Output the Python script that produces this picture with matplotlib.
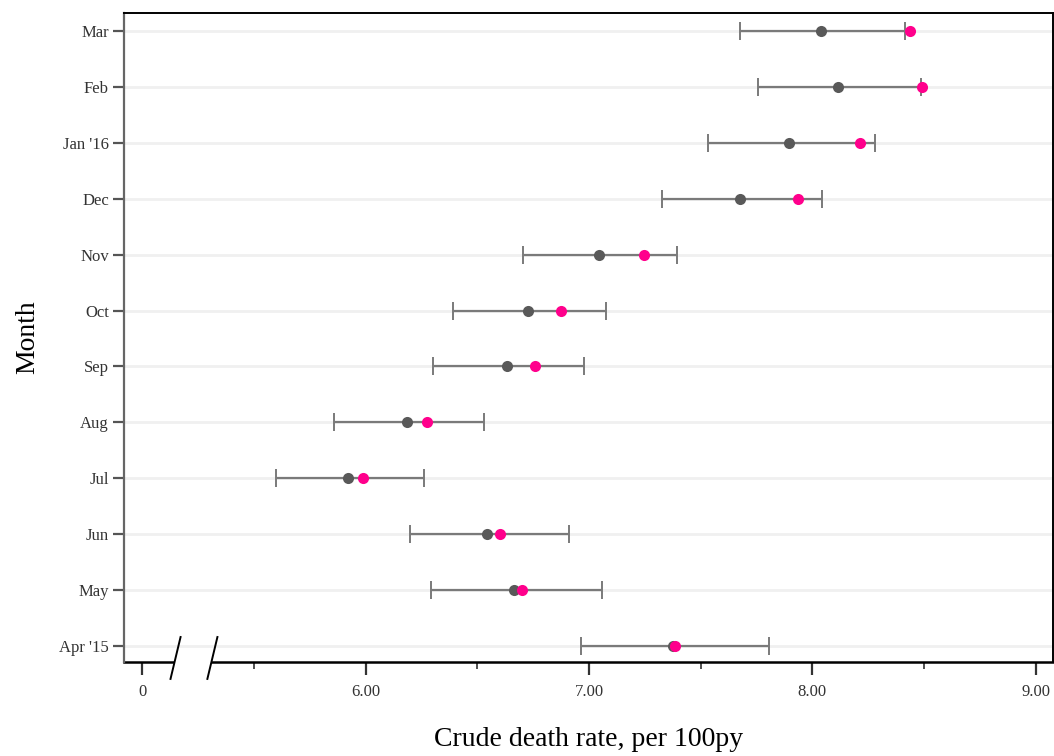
import matplotlib
matplotlib.use("Agg")
import matplotlib.pyplot as plt
from matplotlib.ticker import FixedLocator
import matplotlib.transforms as mtransforms

months = ["Apr '15", "May", "Jun", "Jul", "Aug", "Sep", "Oct", "Nov", "Dec", "Jan '16", "Feb", "Mar"]
estimate = [7.376, 6.665, 6.544, 5.921, 6.185, 6.634, 6.726, 7.043, 7.676, 7.895, 8.115, 8.038]
ci_low = [6.963, 6.295, 6.200, 5.600, 5.857, 6.304, 6.391, 6.707, 7.326, 7.533, 7.755, 7.675]
ci_high = [7.806, 7.060, 6.911, 6.260, 6.531, 6.978, 7.078, 7.393, 8.042, 8.282, 8.488, 8.416]
alt_estimate = [7.385, 6.702, 6.601, 5.987, 6.276, 6.759, 6.874, 7.248, 7.937, 8.215, 8.492, 8.435]

x_ticks = [5.0, 6.0, 7.0, 8.0, 9.0]
x_tick_labels = ["0", "6.00", "7.00", "8.00", "9.00"]
x_minor = [5.5, 6.5, 7.5, 8.5]

plt.rcParams['font.family'] = ['Liberation Serif', 'DejaVu Serif']

fig = plt.figure(figsize=(10.54, 7.56), dpi=100)
ax = fig.add_axes([0.1179, 0.1243, 0.8809, 0.8589])

ypos = list(range(len(months)))
for y in ypos:
    ax.axhline(y, color='#f0f0f0', lw=2.0, zorder=0)

lo_err = [e - l for e, l in zip(estimate, ci_low)]
hi_err = [h - e for e, h in zip(estimate, ci_high)]
ax.errorbar(estimate, ypos, xerr=[lo_err, hi_err], fmt='none', ecolor='#7a7a7a',
            elinewidth=1.6, capsize=6.5, capthick=1.4, zorder=2)
ax.plot(estimate, ypos, 'o', color='#595959', ms=8, mec='none', zorder=3)
ax.plot(alt_estimate, ypos, 'o', color='#ff008c', ms=8, mec='none', zorder=4)

ax.set_xlim(4.92, 9.076)
ax.set_ylim(-0.29, 11.33)
ax.set_yticks(ypos)
ax.set_yticklabels(months, fontsize=12, color='#333333')
ax.xaxis.set_major_locator(FixedLocator(x_ticks))
ax.set_xticklabels(x_tick_labels, fontsize=12, color='#333333')
ax.xaxis.set_minor_locator(FixedLocator(x_minor))

ax.tick_params(axis='y', length=8, width=1.6, color='#555555', pad=3)
ax.tick_params(axis='x', which='major', length=9, width=1.6, color='#333333', pad=7)
ax.tick_params(axis='x', which='minor', length=5, width=1.2, color='#333333')

ax.set_xlabel("Crude death rate, per 100py", fontsize=20, labelpad=19)
ax.set_ylabel("Month", fontsize=20, labelpad=14)

for side in ['top', 'right']:
    ax.spines[side].set_color('black')
    ax.spines[side].set_linewidth(1.4)
ax.spines['left'].set_color('#666666')
ax.spines['left'].set_linewidth(1.6)
ax.spines['bottom'].set_visible(False)

trans = mtransforms.blended_transform_factory(ax.transData, ax.transAxes)
ax.plot([4.92, 5.14], [0, 0], color='black', lw=1.8, transform=trans, clip_on=False)
ax.plot([5.313, 9.076], [0, 0], color='black', lw=1.8, transform=trans, clip_on=False)
ax.plot([5.127, 5.172], [-0.026, 0.0385], color='black', lw=1.4, transform=trans, clip_on=False)
ax.plot([5.292, 5.337], [-0.026, 0.0385], color='black', lw=1.4, transform=trans, clip_on=False)

fig.savefig("out.png", dpi=100)
